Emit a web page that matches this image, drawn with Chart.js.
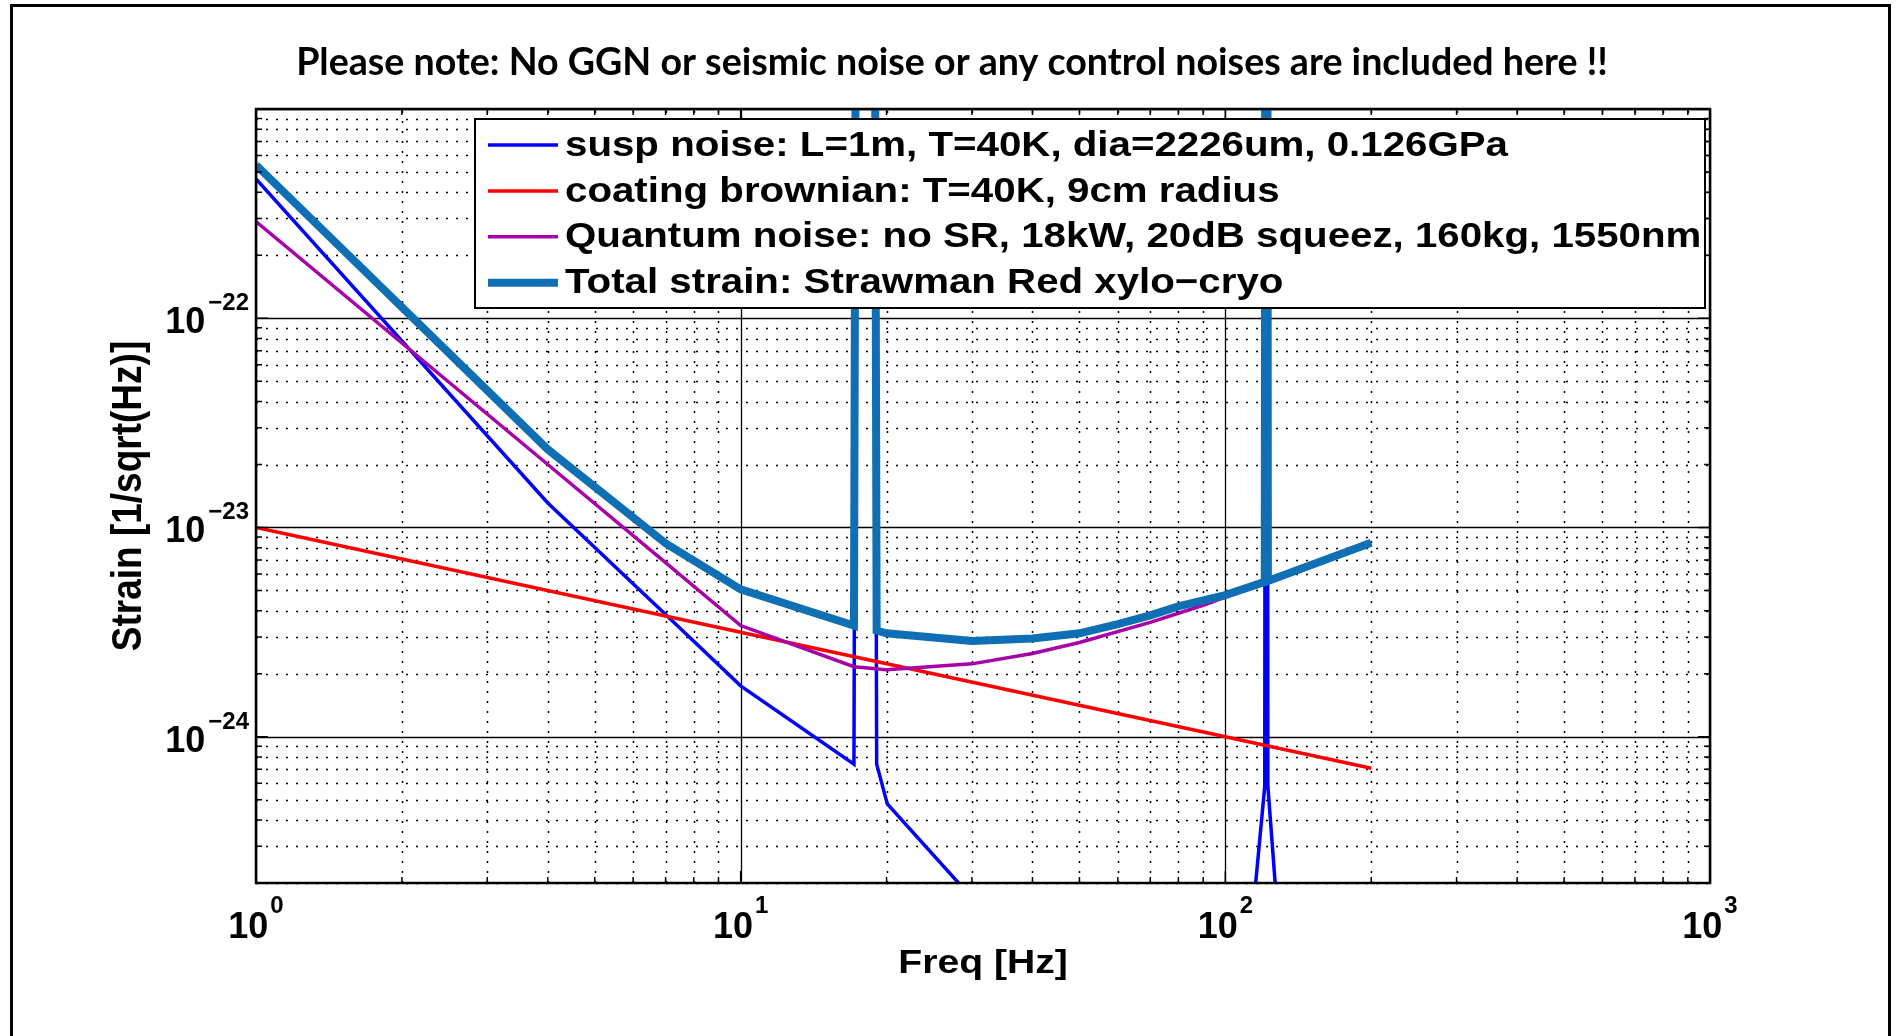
<!DOCTYPE html>
<html>
<head>
<meta charset="utf-8">
<title>Strawman Red xylo-cryo strain</title>
<script src="https://cdn.jsdelivr.net/npm/chart.js@4.4.1/dist/chart.umd.min.js"></script>
<style>
    html, body { margin: 0; padding: 0; background: #fff; }
    #graph { display: block; }
</style>
</head>
<body>
<canvas id="graph" width="1896" height="1036"></canvas>
<script>
// values: frequency in Hz, strain in 1/sqrt(Hz)
const suspFreq   = [1, 4, 7, 10, 17.13, 17.6, 18.6, 19.08, 20.07, 30, 40, 70, 110, 120.6, 121.5, 122.4, 133, 200]
const suspStrain = [4.63e-22, 1.31e-23, 3.84e-24, 1.75e-24, 7.4e-25, 1e-14, 1e-14, 7.4e-25, 4.77e-25, 1.7e-25, 8.5e-26, 5e-26, 6e-26, 5.8e-25, 1e-14, 5.8e-25, 4.5e-26, 1.5e-26]

const coatFreq   = [1, 10, 100, 200]
const coatStrain = [1e-23, 3.16e-24, 1e-24, 7.07e-25]

const quantFreq   = [1, 4, 7, 10, 17.13, 20, 30, 40, 50, 70, 90, 100, 121, 200]
const quantStrain = [2.9e-22, 2.0e-23, 6.8e-24, 3.4e-24, 2.16e-24, 2.09e-24, 2.23e-24, 2.5e-24, 2.82e-24, 3.52e-24, 4.25e-24, 4.65e-24, 5.4e-24, 8.35e-24]

const totalFreq   = [1, 4, 7, 10, 17.13, 17.6, 18.6, 19.08, 20, 30, 40, 50, 60, 70, 80, 100, 120.6, 121.5, 122.4, 200]
const totalStrain = [5.4e-22, 2.36e-23, 8.4e-24, 5.06e-24, 3.4e-24, 1e-14, 1e-14, 3.22e-24, 3.12e-24, 2.87e-24, 2.95e-24, 3.12e-24, 3.45e-24, 3.8e-24, 4.2e-24, 4.75e-24, 5.5e-24, 1e-14, 5.55e-24, 8.45e-24]

// axis ticks (labels are 10^exp)
const xTickVals = [1, 10, 100, 1000]
const xTickExp  = ['0', '1', '2', '3']
const yTickVals = [1e-24, 1e-23, 1e-22]
const yTickExp  = ['\u221224', '\u221223', '\u221222']

const TITLE = 'Please note: No GGN or seismic noise or any control noises are included here !!'

const pts = (f, v) => f.map((fx, i) => ({x: fx, y: v[i]}))

// size the title so it spans the same width as the original one
const probe = document.createElement('canvas').getContext('2d')
probe.font = 'bold 100px Lato'
const titleSize = Math.round(1313 / probe.measureText(TITLE).width * 1000) / 10

// minor/major grid positions for a log axis
function logGrid(lo, hi) {
    const major = [], minor = []
    for (let e = Math.floor(Math.log10(lo)); e <= Math.ceil(Math.log10(hi)); e++) {
        for (let k = 1; k <= 9; k++) {
            const v = k * Math.pow(10, e)
            if (v < lo * 0.999 || v > hi * 1.001) continue
            if (k === 1) major.push(v)
            else minor.push(v)
        }
    }
    return {major, minor}
}
const X_MIN = 1, X_MAX = 1000, Y_MIN = 2e-25, Y_MAX = 1e-21
const xGrid = logGrid(X_MIN, X_MAX)
const yGrid = logGrid(Y_MIN, Y_MAX)

// the old figure was stretched sideways on the slide, so its text is too
const STRETCH = 1.15
function wideText(c, text, x, y) {
    c.save()
    c.translate(x, y)
    c.scale(STRETCH, 1)
    c.fillText(text, 0, 0)
    c.restore()
}

const matlabLook = {
    id: 'matlabLook',
    beforeDraw(chart) {
        const c = chart.ctx
        c.save()
        c.fillStyle = '#fff'
        c.fillRect(0, 0, chart.width, chart.height)
        // frame round the slide
        c.strokeStyle = '#000'
        c.lineWidth = 3
        c.beginPath()
        c.moveTo(11.5, chart.height + 5)
        c.lineTo(11.5, 5.5)
        c.lineTo(1889.5, 5.5)
        c.lineTo(1889.5, chart.height + 5)
        c.stroke()
        // slide note on top
        c.fillStyle = '#000'
        c.font = 'bold ' + titleSize + 'px Lato'
        c.textAlign = 'center'
        c.textBaseline = 'alphabetic'
        c.fillText(TITLE, 952, 75)
        c.restore()
    },
    beforeDatasetsDraw(chart) {
        const {ctx: c, chartArea: a, scales: {x, y}} = chart
        c.save()
        c.strokeStyle = '#000'
        // dotted minor grid
        c.lineWidth = 1.5
        c.setLineDash([2, 8])
        c.beginPath()
        xGrid.minor.forEach(v => {
            const px = Math.round(x.getPixelForValue(v)) + 0.5
            c.moveTo(px, a.bottom); c.lineTo(px, a.top)
        })
        yGrid.minor.forEach(v => {
            const py = Math.round(y.getPixelForValue(v)) + 0.5
            c.moveTo(a.left, py); c.lineTo(a.right, py)
        })
        c.stroke()
        // solid decade lines
        c.setLineDash([])
        c.lineWidth = 1.3
        c.beginPath()
        xGrid.major.forEach(v => {
            const px = Math.round(x.getPixelForValue(v)) + 0.5
            c.moveTo(px, a.bottom); c.lineTo(px, a.top)
        })
        yGrid.major.forEach(v => {
            const py = Math.round(y.getPixelForValue(v)) + 0.5
            c.moveTo(a.left, py); c.lineTo(a.right, py)
        })
        c.stroke()
        c.restore()
    },
    afterDatasetsDraw(chart) {
        const {ctx: c, chartArea: a, scales: {x, y}} = chart
        c.save()
        c.strokeStyle = '#000'
        c.fillStyle = '#000'

        // inward ticks on all four sides
        c.lineWidth = 1.5
        c.beginPath()
        const tickX = (v, len) => {
            const px = x.getPixelForValue(v)
            c.moveTo(px, a.bottom); c.lineTo(px, a.bottom - len)
            c.moveTo(px, a.top); c.lineTo(px, a.top + len)
        }
        const tickY = (v, len) => {
            const py = y.getPixelForValue(v)
            c.moveTo(a.left, py); c.lineTo(a.left + len, py)
            c.moveTo(a.right, py); c.lineTo(a.right - len, py)
        }
        xGrid.major.forEach(v => tickX(v, 12))
        xGrid.minor.forEach(v => tickX(v, 6))
        yGrid.major.forEach(v => tickY(v, 12))
        yGrid.minor.forEach(v => tickY(v, 6))
        c.stroke()

        c.lineWidth = 2.5
        c.strokeRect(a.left, a.top, a.right - a.left, a.bottom - a.top)

        // tick labels 10^n
        const baseFont = 'bold 36px "Liberation Sans", Arial, sans-serif'
        const expFont = 'bold 24px "Liberation Sans", Arial, sans-serif'
        c.textBaseline = 'alphabetic'
        xTickVals.forEach((v, i) => {
            c.font = baseFont
            const wb = c.measureText('10').width
            c.font = expFont
            const we = c.measureText(xTickExp[i]).width
            const x0 = x.getPixelForValue(v) - (wb + 2 + we) / 2
            c.textAlign = 'left'
            c.font = baseFont
            c.fillText('10', x0, a.bottom + 55)
            c.font = expFont
            c.fillText(xTickExp[i], x0 + wb + 2, a.bottom + 30)
        })
        yTickVals.forEach((v, i) => {
            const py = y.getPixelForValue(v)
            c.textAlign = 'right'
            c.font = expFont
            const we = c.measureText(yTickExp[i]).width
            c.fillText(yTickExp[i], a.left - 7, py - 8)
            c.font = baseFont
            c.fillText('10', a.left - 7 - we - 3, py + 15)
        })

        // axis titles
        c.textAlign = 'center'
        c.font = 'bold 34px "Liberation Sans", Arial, sans-serif'
        wideText(c, 'Freq [Hz]', (a.left + a.right) / 2, a.bottom + 90)
        c.save()
        c.translate(141, (a.top + a.bottom) / 2)
        c.rotate(-Math.PI / 2)
        c.scale(1, STRETCH)
        c.font = 'bold 37px "Liberation Sans", Arial, sans-serif'
        c.fillText('Strain [1/sqrt(Hz)]', 0, 0)
        c.restore()

        // legend box in the upper right of the axes
        const lg = {left: a.left + 219, top: a.top + 10, right: a.right - 5, bottom: a.top + 199}
        c.fillStyle = '#fff'
        c.fillRect(lg.left, lg.top, lg.right - lg.left, lg.bottom - lg.top)
        c.lineWidth = 2
        c.strokeRect(lg.left, lg.top, lg.right - lg.left, lg.bottom - lg.top)
        c.font = 'bold 35px "Liberation Sans", Arial, sans-serif'
        c.textAlign = 'left'
        c.textBaseline = 'middle'
        chart.data.datasets.forEach((ds, i) => {
            const ry = lg.top + 26 + i * 45.9
            c.strokeStyle = ds.borderColor
            c.lineWidth = ds.borderWidth
            c.beginPath()
            c.moveTo(lg.left + 13, ry); c.lineTo(lg.left + 83, ry)
            c.stroke()
            c.fillStyle = '#000'
            wideText(c, ds.label, lg.left + 90, ry + 1)
        })
        c.restore()
    }
}

const ctx = document.getElementById('graph').getContext('2d')

new Chart(ctx, {
    type: 'line',
    data: {
        datasets: [
            {label: 'susp noise: L=1m, T=40K, dia=2226um, 0.126GPa', data: pts(suspFreq, suspStrain), borderColor: '#0000ff', borderWidth: 3.5, order: 4},
            {label: 'coating brownian: T=40K, 9cm radius', data: pts(coatFreq, coatStrain), borderColor: '#ff0000', borderWidth: 3.5, order: 3},
            {label: 'Quantum noise: no SR, 18kW, 20dB squeez, 160kg, 1550nm', data: pts(quantFreq, quantStrain), borderColor: '#a800a8', borderWidth: 3.5, order: 2},
            {label: 'Total strain: Strawman Red xylo\u2212cryo', data: pts(totalFreq, totalStrain), borderColor: '#0f6fb5', borderWidth: 8, order: 1}
        ]
    },
    options: {
        responsive: false,
        devicePixelRatio: 1,
        animation: false,
        events: [],
        layout: {padding: {left: 256, right: 186, top: 109, bottom: 153}},
        elements: {
            point: {radius: 0},
            line: {tension: 0, fill: false}
        },
        datasets: {line: {clip: 0}},
        plugins: {
            legend: {display: false},
            tooltip: {enabled: false},
            title: {display: false}
        },
        scales: {
            x: {
                type: 'logarithmic',
                min: X_MIN, max: X_MAX,
                bounds: 'data',
                ticks: {display: false},
                grid: {display: false},
                border: {display: false},
                afterFit: s => { s.height = 0 }
            },
            y: {
                type: 'logarithmic',
                min: Y_MIN, max: Y_MAX,
                bounds: 'data',
                ticks: {display: false},
                grid: {display: false},
                border: {display: false},
                afterFit: s => { s.width = 0 }
            }
        }
    },
    plugins: [matlabLook]
})
</script>
</body>
</html>
